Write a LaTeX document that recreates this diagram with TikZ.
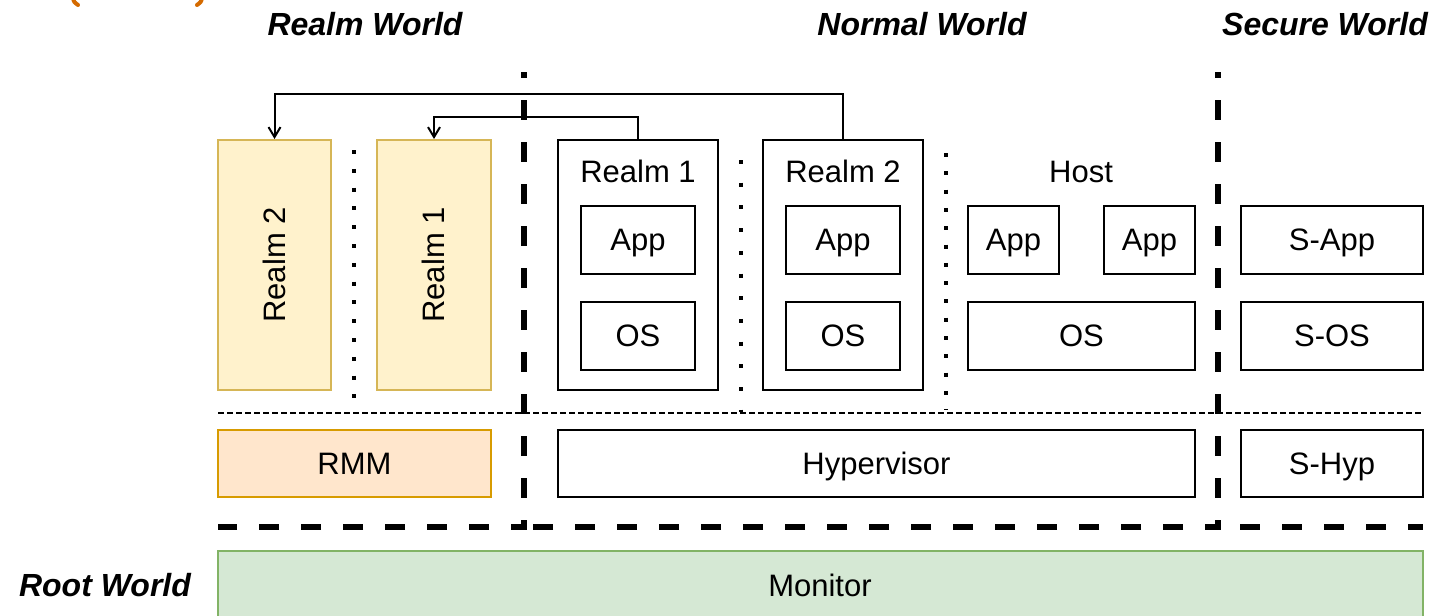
\documentclass[tikz,border=0pt]{standalone}
\usepackage{fontspec}
\setmainfont{Liberation Sans}
\usetikzlibrary{fit,arrows.meta}
\definecolor{yfill}{HTML}{FFF2CC}
\definecolor{ydraw}{HTML}{D6B656}
\definecolor{ofill}{HTML}{FFE6CC}
\definecolor{odraw}{HTML}{D79B00}
\definecolor{gfill}{HTML}{D5E8D4}
\definecolor{gdraw}{HTML}{82B366}
\definecolor{ttl}{HTML}{D46A00}
\begin{document}
\begin{tikzpicture}[x=0.5pt,y=-0.5pt,
  font=\fontsize{15.5}{18}\selectfont,
  tx/.style={text height=12pt, text depth=1.4pt, inner sep=0pt},
  blk/.style={draw, line width=1pt, inner sep=0pt, fill=white},
  yel/.style={blk, fill=yfill, draw=ydraw},
  orng/.style={blk, fill=ofill, draw=odraw},
  grn/.style={blk, fill=gfill, draw=gdraw},
  txt/.style={label={[tx]center:#1}},
  world/.style={tx, font=\fontsize{16}{19}\selectfont\bfseries\itshape},
  thickdash/.style={line width=3.3pt, dash pattern=on 10pt off 11pt, dash phase=7pt},
  thindash/.style={line width=1pt, dash pattern=on 3pt off 1.5pt},
  dotline/.style={line width=2pt, dash pattern=on 2pt off 7.4pt},
  arr/.style={line width=1pt, -{Straight Barb[length=5pt,width=6pt]}}]
\clip (0,0) rectangle (1453,616);

% cut-off orange caption fragments
\draw[ttl, line width=2pt, line cap=round] (73,-2) .. controls (74,2) .. (78,5);
\draw[ttl, line width=2pt, line cap=round] (202,-2) .. controls (201,2) .. (197,5);

% world titles
\node[world] (tRealm) at (365,25) {Realm World};
\node[world] (tNormal) at (922,25) {Normal World};
\node[world] (tSecure) at (1325,25) {Secure World};
\node[world] (tRoot) at (105,586) {Root World};

% thin dashed separator
\coordinate (sepL) at (218,413);
\coordinate (sepR) at (1423,413);
\draw[thindash] (sepL) -- (sepR);

% dotted separators
\coordinate (d1a) at (354,150); \coordinate (d1b) at (354,412);
\coordinate (d2a) at (741,160); \coordinate (d2b) at (741,412);
\coordinate (d3a) at (946,153); \coordinate (d3b) at (946,410);
\draw[dotline] (d1a) -- (d1b);
\draw[dotline, dash pattern=on 2pt off 9.35pt] (d2a) -- (d2b);
\draw[dotline, dash pattern=on 2pt off 7.15pt] (d3a) -- (d3b);

% realm world
\node[yel, fit={(218,140) (331,390)}] (yr2) {};
\node[tx, rotate=90] (yr2t) at (yr2.center) {Realm 2};
\node[yel, fit={(377,140) (491,390)}] (yr1) {};
\node[tx, rotate=90] (yr1t) at (yr1.center) {Realm 1};
\node[orng, fit={(218,430) (491,497)}, txt=RMM] (rmm) {};

% normal world
\node[blk, fit={(558,140) (718,390)}] (nr1) {};
\node[tx] (nr1t) at (638,172) {Realm 1};
\node[blk, fit={(581,206) (695,274)}, txt=App] (nr1app) {};
\node[blk, fit={(581,302) (695,370)}, txt=OS] (nr1os) {};

\node[blk, fit={(763,140) (923,390)}] (nr2) {};
\node[tx] (nr2t) at (843,172) {Realm 2};
\node[blk, fit={(786,206) (900,274)}, txt=App] (nr2app) {};
\node[blk, fit={(786,302) (900,370)}, txt=OS] (nr2os) {};

\node[tx] (host) at (1081,172) {Host};
\node[blk, fit={(968,206) (1059,274)}, txt=App] (happ1) {};
\node[blk, fit={(1104,206) (1195,274)}, txt=App] (happ2) {};
\node[blk, fit={(968,302) (1195,370)}, txt=OS] (hos) {};

\node[blk, fit={(558,430) (1195,497)}, txt=Hypervisor] (hyp) {};

% secure world
\node[blk, fit={(1241,206) (1423,274)}, txt=S-App] (sapp) {};
\node[blk, fit={(1241,302) (1423,370)}, txt=S-OS] (sos) {};
\node[blk, fit={(1241,430) (1423,497)}, txt=S-Hyp] (shyp) {};

% root world
\node[grn, fit={(218,551) (1423,621)}] (mon) {};
\node[tx] (mont) at (820,586) {Monitor};

% arrows
\draw[arr] (nr2.north) -- ++(0,-45) -| (yr2.north);
\draw[arr] (nr1.north) -- ++(0,-22) -| (yr1.north);

% thick dashed world borders
\coordinate (v1top) at (524,72);
\coordinate (v1bot) at (524,527);
\coordinate (v2top) at (1218,72);
\coordinate (v2bot) at (1218,527);
\coordinate (hL) at (218,527);
\coordinate (hR) at (1423,527);
\draw[thickdash] (v1top) -- (v1bot) -- (hL);
\draw[thickdash] (v2top) -- (v2bot) -- (v1bot);
\draw[thickdash, dash phase=10pt] (v2bot) -- (hR);
\end{tikzpicture}
\end{document}
